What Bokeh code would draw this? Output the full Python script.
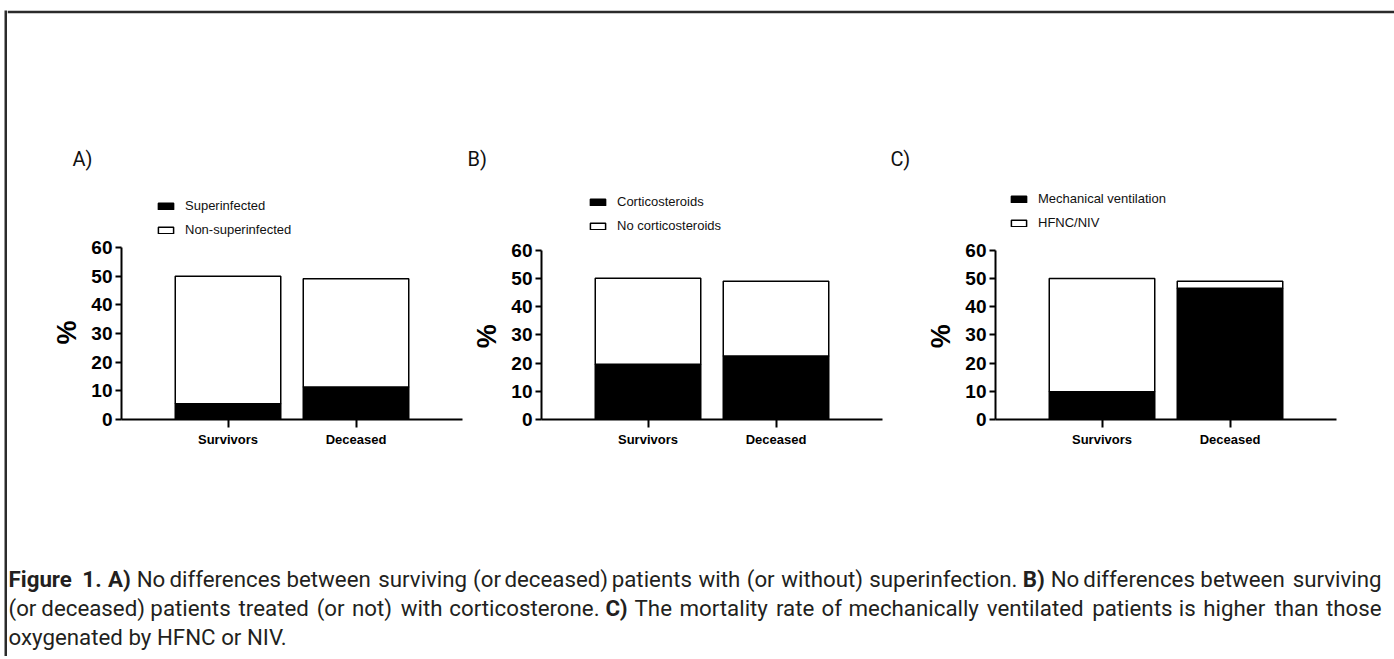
from bokeh.plotting import figure
from bokeh.models import Range1d, FixedTicker, Legend, LegendItem, ColumnDataSource
from bokeh.layouts import row, column
from bokeh.embed import file_html
from bokeh.resources import INLINE
from bokeh.core.properties import value

# ---------------- data ----------------
categories = ["Survivors", "Deceased"]

# Panel A
superinfected = [5.5, 11.3]
non_superinfected = [44.5, 37.8]
# Panel B
corticosteroids = [19.6, 22.5]
no_corticosteroids = [30.4, 26.5]
# Panel C
mechanical_ventilation = [9.8, 46.5]
hfnc_niv = [40.2, 2.5]

y_ticks = [0, 10, 20, 30, 40, 50, 60]
panel_letters = ["A)", "B)", "C)"]
legend_names = [("Superinfected", "Non-superinfected"),
                ("Corticosteroids", "No corticosteroids"),
                ("Mechanical ventilation", "HFNC/NIV")]

# caption: (word, bold)
caption_line1 = [("Figure", 1), ("1.", 1), ("A)", 1), ("No", 0), ("differences", 0), ("between", 0),
                 ("surviving", 0), ("(or", 0), ("deceased)", 0), ("patients", 0), ("with", 0), ("(or", 0),
                 ("without)", 0), ("superinfection.", 0), ("B)", 1), ("No", 0), ("differences", 0),
                 ("between", 0), ("surviving", 0)]
caption_line2 = [("(or", 0), ("deceased)", 0), ("patients", 0), ("treated", 0), ("(or", 0), ("not)", 0),
                 ("with", 0), ("corticosterone.", 0), ("C)", 1), ("The", 0), ("mortality", 0), ("rate", 0),
                 ("of", 0), ("mechanically", 0), ("ventilated", 0), ("patients", 0), ("is", 0),
                 ("higher", 0), ("than", 0), ("those", 0)]
caption_line3 = "oxygenated by HFNC or NIV."

# approximate advance widths (per 1000 em) of the caption typeface, used for justification
ADV = {'a': 482, 'b': 569, 'c': 448, 'd': 564, 'e': 501, 'f': 292, 'g': 559, 'h': 555, 'i': 234,
       'j': 243, 'k': 469, 'l': 236, 'm': 834, 'n': 555, 'o': 549, 'p': 569, 'q': 563, 'r': 327,
       's': 396, 't': 331, 'u': 551, 'v': 481, 'w': 736, 'x': 463, 'y': 471, 'z': 428,
       'A': 612, 'B': 542, 'C': 580, 'F': 487, 'H': 652, 'I': 239, 'N': 658, 'T': 497, 'V': 592,
       '(': 284, ')': 284, '.': 207, '1': 513}
ADV_BOLD = {'F': 512, 'i': 285, 'g': 574, 'u': 594, 'r': 395, 'e': 528, '1': 555, '.': 280,
            'A': 656, 'B': 613, 'C': 595, ')': 339}

PX_PER_CAT = 128.0
FRAME_W = 341
DARK = "#2b2b2b"
NBSP = "\u00a0"
PANEL_TOP = 178   # page y where the panel row starts


def make_panel(names, black_vals, white_vals, width, mb_left, height, frame_top_px,
               y0_px, y60_px, leg_dx, leg_dy, pad_n):
    xs = list(range(1, len(categories) + 1))
    src = ColumnDataSource(dict(x=xs, black=black_vals, white=white_vals))
    start = 1 - 106.5 / PX_PER_CAT
    end = start + FRAME_W / PX_PER_CAT
    frame_h = y0_px - frame_top_px
    ymax = 60.0 * frame_h / (y0_px - y60_px)
    mb_top = frame_top_px - PANEL_TOP
    p = figure(width=width, height=height, x_range=Range1d(start, end), y_range=Range1d(0, ymax),
               output_backend="svg", toolbar_location=None,
               min_border_left=mb_left, min_border_right=width - mb_left - FRAME_W,
               min_border_top=mb_top, min_border_bottom=height - mb_top - frame_h)
    p.outline_line_color = None
    p.grid.visible = False
    p.background_fill_color = "white"
    p.border_fill_color = "white"

    rs = p.vbar_stack(["black", "white"], x="x", width=105.5 / PX_PER_CAT, source=src,
                      fill_color=["black", "white"], line_color="black", line_width=1.5)

    ya = p.yaxis[0]
    ya.bounds = (0, 60)
    ya.ticker = FixedTicker(ticks=y_ticks)
    ya.minor_tick_line_color = None
    ya.major_tick_in = 0
    ya.major_tick_out = 6
    ya.major_tick_line_width = 2
    ya.axis_line_width = 2
    ya.major_label_text_font = "Liberation Sans"
    ya.major_label_text_font_style = "bold"
    ya.major_label_text_font_size = "19px"
    ya.major_label_text_color = "black"
    ya.major_label_standoff = 3
    # the label is centred on the frame; trailing no-break spaces move it to the middle of 0-60
    ya.axis_label = "%" + NBSP * pad_n
    ya.axis_label_text_font = "Liberation Sans"
    ya.axis_label_text_font_style = "bold"
    ya.axis_label_text_font_size = "27px"
    ya.axis_label_text_color = "black"
    ya.axis_label_standoff = 6

    xa = p.xaxis[0]
    xa.ticker = FixedTicker(ticks=xs)
    xa.major_label_overrides = {x: c for x, c in zip(xs, categories)}
    xa.minor_tick_line_color = None
    xa.major_tick_in = 0
    xa.major_tick_out = 8
    xa.major_tick_line_width = 2
    xa.axis_line_width = 2
    xa.major_label_text_font = "Liberation Sans"
    xa.major_label_text_font_style = "bold"
    xa.major_label_text_font_size = "13px"
    xa.major_label_text_color = "black"
    xa.major_label_standoff = 4

    legend = Legend(items=[LegendItem(label=names[0], renderers=[rs[0]]),
                           LegendItem(label=names[1], renderers=[rs[1]])],
                    location=(leg_dx, leg_dy))
    legend.margin = 0
    legend.padding = 0
    legend.border_line_color = None
    legend.background_fill_alpha = 0
    legend.glyph_width = 19
    legend.glyph_height = 8
    legend.label_height = 15
    legend.spacing = 9
    legend.label_standoff = 10
    legend.label_text_font = "Liberation Sans"
    legend.label_text_font_size = "13px"
    legend.label_text_color = "#111111"
    p.add_layout(legend)
    return p


PH = 460 - PANEL_TOP
pA = make_panel(legend_names[0], superinfected, non_superinfected, 459, 114, PH, 185, 419, 247, 35, 182, 8)
pB = make_panel(legend_names[1], corticosteroids, no_corticosteroids, 420, 75, PH, 185, 424, 251, 47, 186, 9)
pC = make_panel(legend_names[2], mechanical_ventilation, hfnc_niv, 499, 109, PH, 185, 427, 252, 14, 189, 9)

# ---------------- panel letters strip (page y 10..178, top 3px = frame border) ----------------
SW = 1387
SH = PANEL_TOP - 13
strip = figure(width=SW, height=SH + 3, x_range=Range1d(0, SW), y_range=Range1d(SH, 0),
               output_backend="svg", toolbar_location=None, min_border=0, min_border_top=3,
               x_axis_type=None, y_axis_type=None)
strip.outline_line_color = None
strip.grid.visible = False
strip.background_fill_color = "white"
strip.border_fill_color = DARK
strip.text(x=[65, 460, 883], y=[145, 145, 145], text=panel_letters, text_font=value("Roboto"),
           text_font_size="20px", text_baseline="middle", text_align="left", text_color="#111111")

# ---------------- caption (page y 460..656) ----------------
CW, CH = 1387, 196
cap = figure(width=CW, height=CH, x_range=Range1d(0, CW), y_range=Range1d(CH, 0),
             output_backend="svg", toolbar_location=None, min_border=0,
             x_axis_type=None, y_axis_type=None)
cap.outline_line_color = None
cap.grid.visible = False

FS = 23.5
LINE_LEFT, LINE_RIGHT = 1, 1374


def word_w(w, bold):
    table = ADV_BOLD if bold else ADV
    return sum(table.get(ch, ADV.get(ch, 500)) for ch in w) * FS / 1000.0


def justified(words, y):
    """Word slots of a justified line; each word is anchored in its slot."""
    widths = [word_w(w, b) for w, b in words]
    gap = (LINE_RIGHT - LINE_LEFT - sum(widths)) / (len(words) - 1)
    x = LINE_LEFT
    out = {}
    n = len(words)
    for i, ((w, b), wd) in enumerate(zip(words, widths)):
        align = "left" if i == 0 else ("right" if i == n - 1 else "center")
        ax = x if align == "left" else (x + wd if align == "right" else x + wd / 2)
        d = out.setdefault((b, align), dict(x=[], y=[], text=[]))
        d["x"].append(ax)
        d["y"].append(y)
        d["text"].append(w)
        x += wd + gap
    return out


common = dict(text_font=value("Roboto"), text_font_size="22.3px", text_baseline="middle",
              text_color="#231f20")
for words, ly in ((caption_line1, 118), (caption_line2, 147)):
    for (bold, align), d in justified(words, ly).items():
        cap.text(x="x", y="y", text="text", source=ColumnDataSource(d), text_align=align,
                 text_font_style="bold" if bold else "normal", **common)
cap.text(x=[LINE_LEFT], y=[176], text=[caption_line3], text_font_style="normal",
         text_align="left", **common)


# ---------------- frame border / spacing blocks ----------------
def block(w, h, color):
    f = figure(width=w, height=h, x_range=Range1d(0, 1), y_range=Range1d(0, 1),
               output_backend="svg", toolbar_location=None, min_border=0,
               x_axis_type=None, y_axis_type=None)
    f.outline_line_color = None
    f.grid.visible = False
    f.background_fill_color = color
    f.border_fill_color = color
    return f


content = column(strip, row(pA, pB, pC), cap)
layout = column(block(10, 10, "white"),
                row(block(4, 10, "white"), block(3, 646, DARK), content))

open("out.html", "w").write(file_html(layout, INLINE))
